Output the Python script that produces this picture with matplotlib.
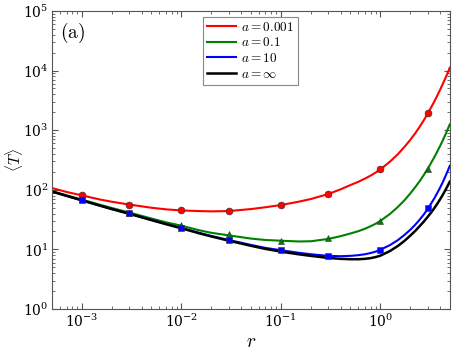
import numpy as np
import matplotlib; matplotlib.use("Agg")
import matplotlib.pyplot as plt

plt.rcParams.update({"mathtext.fontset": "cm", "font.family": "serif", "font.serif": ["DejaVu Serif"],
                     "axes.formatter.use_mathtext": True, "font.size": 11})

# theory curves
r_line = [5e-4, 7e-4, 1e-3, 1.5e-3, 2e-3, 3e-3, 5e-3, 7e-3, 1e-2, 1.5e-2, 2e-2, 3e-2, 5e-2, 7e-2,
          0.1, 0.15, 0.2, 0.3, 0.4, 0.5, 0.6, 0.7, 0.8, 0.9,
          1, 1.25, 1.5, 1.75, 2, 2.25, 2.5, 2.75, 3, 3.25, 3.5, 3.75, 4, 4.25, 4.5, 4.75, 5]
T_a0001 = [107, 92, 80.5, 69, 63, 56.5, 50, 47, 45, 44, 43.5, 44, 47.5, 51,
           55.5, 63, 70, 85, 102, 120, 136, 154, 173, 195,
           219, 296, 395, 523, 686, 889, 1153, 1480, 1901, 2416, 3041, 3827, 4772, 5943, 7332, 9045, 11160]
T_a01 = [95, 81, 68.5, 56.5, 49.5, 41.5, 33, 28.5, 25, 21, 19, 17.2, 15.2, 14.4,
         14.0, 13.6, 13.7, 15.0, 16.7, 18.5, 20.2, 22.2, 24.5, 27.0,
         30, 39.3, 51.4, 66.7, 86.5, 111, 141, 179, 226, 284, 354, 441, 545, 672, 829, 1023, 1249]
T_a10 = [93.5, 79, 66.5, 54.5, 47.5, 39.8, 31.3, 26.8, 22.9, 19.0, 16.8, 14.4, 11.9, 10.6,
         9.7, 8.8, 8.3, 7.8, 7.7, 7.8, 8.0, 8.3, 8.7, 9.2,
         9.9, 11.8, 14.3, 17.5, 21.3, 26.0, 31.8, 38.9, 47.9, 59.1, 72.2, 89.1, 109, 134, 166, 204, 252]
T_ainf = [93.5, 79, 66.5, 54.5, 47.5, 39.5, 31, 26.5, 22.6, 18.7, 16.5, 14.0, 11.5, 10.2,
          9.2, 8.3, 7.8, 7.2, 6.95, 6.85, 6.85, 6.95, 7.15, 7.45,
          7.85, 9.4, 11.4, 13.9, 17.0, 20.5, 24.8, 29.5, 35.2, 41.7, 49.4, 58.6, 69.4, 82.3, 97.5, 115.6, 137]

# simulation points
r_sim = [1e-3, 3e-3, 1e-2, 3e-2, 0.1, 0.3, 1, 3]
S_a0001 = [80.5, 56, 45, 44, 55, 84, 219, 1946]
S_a01 = [71, 40.8, 25.7, 17.8, 14.0, 15.3, 29.6, 226]
S_a10 = [66.5, 40.3, 22.9, 14.6, 9.7, 7.8, 9.8, 50]

fig = plt.figure(figsize=(4.69, 3.52), dpi=100)
ax = fig.add_axes([0.111, 0.122, 0.848, 0.847])

series = [(T_a0001, S_a0001, "red", "o", r"$a = 0.001$"),
          (T_a01, S_a01, "#008000", "^", r"$a = 0.1$"),
          (T_a10, S_a10, "blue", "s", r"$a = 10$")]
for T, S, c, m, lab in series:
    ax.plot(r_line, T, color=c, lw=1.5, label=lab)
ax.plot(r_line, T_ainf, color="black", lw=1.8, label=r"$a = \infty$")
for T, S, c, m, lab in series:
    ax.plot(r_sim, S, ls="none", marker=m, ms=5, color=c, mec="#333333", mew=0.4, zorder=5)

ax.set_xscale("log"); ax.set_yscale("log")
ax.set_xlim(5e-4, 5); ax.set_ylim(1, 1e5)
ax.set_xticks([1e-3, 1e-2, 1e-1, 1]); ax.set_yticks([1, 10, 100, 1e3, 1e4, 1e5])
ax.tick_params(which="both", direction="in", top=True, right=True, color="#555555", labelsize=10)
ax.tick_params(which="major", length=4, pad=2.5); ax.tick_params(which="minor", length=2)
for s in ax.spines.values():
    s.set_color("#555555"); s.set_linewidth(0.8)
ax.set_xlabel(r"$r$", fontsize=14, labelpad=2)
ax.set_ylabel(r"$\langle T\rangle$", fontsize=11)
ax.yaxis.set_label_coords(-0.068, 0.5)
ax.text(0.02, 0.965, r"$\mathrm{(a)}$", transform=ax.transAxes, fontsize=14, va="top", ha="left")
leg = ax.legend(loc="upper center", bbox_to_anchor=(0.498, 0.98), fontsize=9.5, fancybox=False,
                edgecolor="#888888", framealpha=1, handlelength=2.2, borderpad=0.3,
                labelspacing=0.2, handletextpad=0.4, borderaxespad=0)
leg.get_frame().set_linewidth(0.8)
fig.savefig("out.png", dpi=100)
